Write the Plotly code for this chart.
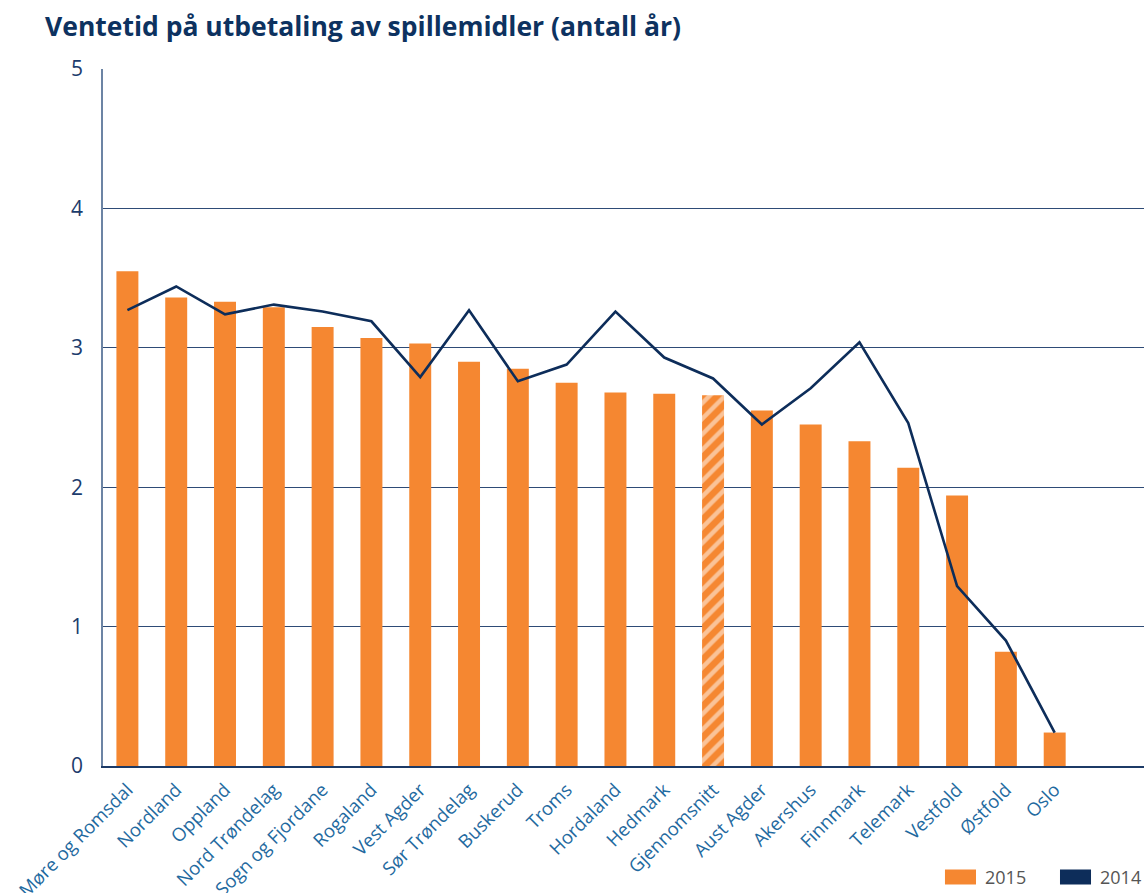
import plotly.graph_objects as go

fylker = ['Møre og Romsdal', 'Nordland', 'Oppland', 'Nord Trøndelag', 'Sogn og Fjordane',
          'Rogaland', 'Vest Agder', 'Sør Trøndelag', 'Buskerud', 'Troms', 'Hordaland',
          'Hedmark', 'Gjennomsnitt', 'Aust Agder', 'Akershus', 'Finnmark', 'Telemark',
          'Vestfold', 'Østfold', 'Oslo']
ar_2015 = [3.55, 3.36, 3.33, 3.29, 3.15, 3.07, 3.03, 2.90, 2.85, 2.75, 2.68,
           2.67, 2.66, 2.55, 2.45, 2.33, 2.14, 1.94, 0.82, 0.24]
ar_2014 = [3.27, 3.44, 3.24, 3.31, 3.26, 3.19, 2.79, 3.27, 2.76, 2.88, 3.26,
           2.93, 2.78, 2.45, 2.71, 3.04, 2.46, 1.29, 0.90, 0.24]
y_ticks = [0, 1, 2, 3, 4, 5]
legend_names = ['2015', '2014']

ORANGE = '#f58731'
NAVY = '#0d2d5a'

# the average bar is hatched
patterns = ['/' if f == 'Gjennomsnitt' else '' for f in fylker]

fig = go.Figure()
fig.add_trace(go.Bar(x=fylker, y=ar_2015, name=legend_names[0],
                     width=0.45,
                     marker=dict(color=ORANGE, line_width=0,
                                 pattern=dict(shape=patterns, fgcolor='white',
                                              size=11, solidity=0.4)),
                     showlegend=False))
fig.add_trace(go.Scatter(x=fylker, y=ar_2014, name=legend_names[1], mode='lines',
                         line=dict(color=NAVY, width=2.6), showlegend=False))

# legend as wide blocks under the plot, bottom right
for name, col, x0 in [(legend_names[0], ORANGE, 0.8088), (legend_names[1], NAVY, 0.9193)]:
    fig.add_shape(type='rect', xref='paper', yref='paper',
                  x0=x0, x1=x0 + 0.0298, y0=-0.1485, y1=-0.1700,
                  fillcolor=col, line_width=0)
    fig.add_annotation(xref='paper', yref='paper', x=x0 + 0.0365, y=-0.1593,
                       text=name, showarrow=False, xanchor='left', yanchor='middle',
                       font=dict(size=18, color='#555555'))

fig.update_layout(
    width=1144, height=893,
    margin=dict(l=103, r=0, t=69, b=127),
    plot_bgcolor='white', paper_bgcolor='white',
    font=dict(family='Open Sans', color=NAVY),
    title=dict(text='<b>Ventetid på utbetaling av spillemidler (antall år)</b>',
               x=45 / 1144, xanchor='left', y=1 - 27 / 893, yanchor='middle',
               font=dict(size=26.5, color='#0d3260')),
    showlegend=False,
)
fig.update_xaxes(range=[-0.5, 20.83], tickangle=-45, automargin=False,
                 tickfont=dict(size=18.5, color='#1f6aa0'),
                 showline=True, linecolor='#1c3a66', linewidth=1.5,
                 showgrid=False, ticks='', ticklabelstandoff=4)
fig.update_yaxes(range=[0, 5], tickvals=y_ticks, automargin=False,
                 tickfont=dict(size=21, color='#1c3c6c'),
                 showgrid=True, gridcolor='#2e4b76', gridwidth=1,
                 showline=True, linecolor='#6c84a4', linewidth=1.5,
                 zeroline=False, ticklabelstandoff=14)

fig.write_html('out.html', config={'displayModeBar': False},
               post_script="document.body.style.margin='0';")
